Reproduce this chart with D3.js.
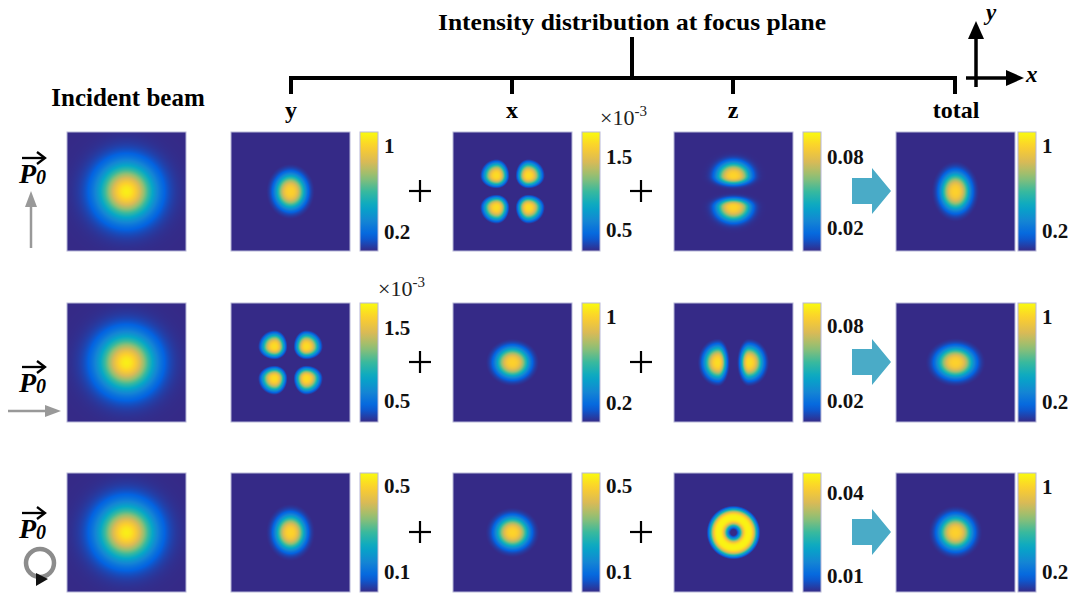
<!DOCTYPE html>
<html><head><meta charset="utf-8">
<script src="https://cdn.jsdelivr.net/npm/d3@7"></script>
<style>
body{margin:0;background:#fff;}
svg{display:block;}
</style>
</head><body>
<svg id="fig" width="1073" height="597"></svg>
<script>
// ---------------- data ----------------
const title = "Intensity distribution at focus plane";
const incidentLabel = "Incident beam";
const columnNames = ["y", "x", "z", "total"];
const polarization = ["linear-y", "linear-x", "circular"];

const incidentPeak = [1, 1, 1];
const incidentWidth = [0.45, 0.45, 0.45];
const incidentDomain = [0, 1.04];

const patternType = [
  ["spot", "quad", "dipoleY", "spot"],
  ["quad", "spot", "dipoleX", "spot"],
  ["spot", "spot", "ring", "spot"]
];
const peakValue = [
  [1, 1.7, 0.09, 1],
  [1.7, 1, 0.09, 1],
  [0.5, 0.5, 0.046, 1]
];
// widths in panel units (panel half-width = 1)
const shapeSX = [
  [0.245, 0.215, 0.27, 0.235],
  [0.215, 0.27, 0.22, 0.295],
  [0.24, 0.265, 0.15, 0.265]
];
const shapeSY = [
  [0.28, 0.215, 0.22, 0.30],
  [0.215, 0.24, 0.26, 0.24],
  [0.28, 0.245, 0.15, 0.265]
];
// width on the side facing the centre (lobes only)
const shapeInner = [
  [0, 0.165, 0.13, 0],
  [0.165, 0, 0.13, 0],
  [0, 0, 0, 0]
];
// lobe offset from centre / ring radius
const shapeOffset = [
  [0, 0.265, 0.26, 0],
  [0.265, 0, 0.26, 0],
  [0, 0, 0.25, 0]
];
const cbMin = [
  [0.02, 0.21, 0, 0.015],
  [0.21, 0.02, 0.003, 0.015],
  [0.007, 0.007, 0.004, 0.015]
];
const cbMax = [
  [1.13, 1.84, 0.101, 1.13],
  [1.84, 1.13, 0.098, 1.13],
  [0.56, 0.56, 0.047, 1.13]
];
const cbTicks = [
  [[0.2, 1], [0.5, 1.5], [0.02, 0.08], [0.2, 1]],
  [[0.5, 1.5], [0.2, 1], [0.02, 0.08], [0.2, 1]],
  [[0.1, 0.5], [0.1, 0.5], [0.01, 0.04], [0.2, 1]]
];
const cbTickLabels = [
  [["0.2", "1"], ["0.5", "1.5"], ["0.02", "0.08"], ["0.2", "1"]],
  [["0.5", "1.5"], ["0.2", "1"], ["0.02", "0.08"], ["0.2", "1"]],
  [["0.1", "0.5"], ["0.1", "0.5"], ["0.01", "0.04"], ["0.2", "1"]]
];
const cbExponent = [
  [null, "-3", null, null],
  ["-3", null, null, null],
  [null, null, null, null]
];
const parulaColors = ["#352a87", "#0363e1", "#1485d4", "#06a7c6", "#38b99e",
  "#92bf73", "#d9ba56", "#fcce2e", "#f9fb0e"];

// ---------------- layout ----------------
const PANEL = 119;
const incidentX = 67;
const colX = [231, 453, 674, 896];
const cbOffset = [129, 129, 129, 122];
const CBW = 18;
const rowY = [132, 303, 473];
const serif = "Liberation Serif";

const svg = d3.select("#fig");
const parula = d3.piecewise(d3.interpolateRgb, parulaColors);
const unit = d3.scaleLinear().domain([-1, 1]).range([0, PANEL]);

function env(u, v, sx, sy, p) {
  return Math.exp(-Math.pow((u / sx) ** 2 + (v / sy) ** 2, p / 2));
}
// distance normalised with a different width toward / away from the centre
function side(w, c, sIn, sOut) {
  const d = w - c;
  return d * Math.sign(c) < 0 ? d / sIn : d / sOut;
}
function lobe(du, dv, p) { return Math.exp(-Math.pow(du * du + dv * dv, p / 2)); }
function field(type, u, v, sx, sy, sIn, off) {
  if (type === "gauss") return env(u, v, sx, sy, 2);
  if (type === "spot") return env(u, v, sx, sy, 2.7);
  if (type === "quad") {
    let s = 0;
    for (const a of [-off, off]) for (const b of [-off, off])
      s += lobe(side(u, a, sIn, sx), side(v, b, sIn, sy), 2.8);
    return s;
  }
  if (type === "dipoleY") {
    let s = 0;
    for (const b of [-off, off]) s += lobe(u / sx, side(v, b, sIn, sy), 2.8);
    return s;
  }
  if (type === "dipoleX") {
    let s = 0;
    for (const a of [-off, off]) s += lobe(side(u, a, sIn, sx), v / sy, 2.8);
    return s;
  }
  if (type === "ring") {
    const r = Math.hypot(u, v);
    return Math.exp(-Math.pow(Math.abs(r - off) / sx, 3));
  }
  return 0;
}

function drawPanel(x0, y0, type, peak, sx, sy, sIn, off, domain) {
  const N = PANEL;
  const canvas = document.createElement("canvas");
  canvas.width = N; canvas.height = N;
  const ctx = canvas.getContext("2d");
  const img = ctx.createImageData(N, N);
  const raw = new Float64Array(N * N);
  let mx = 0;
  for (let j = 0; j < N; j++) for (let i = 0; i < N; i++) {
    const f = field(type, unit.invert(i + 0.5), unit.invert(j + 0.5), sx, sy, sIn, off);
    raw[j * N + i] = f; if (f > mx) mx = f;
  }
  const color = d3.scaleSequential(parula).domain(domain).clamp(true);
  for (let k = 0; k < N * N; k++) {
    const c = d3.rgb(color(raw[k] / mx * peak));
    img.data[4 * k] = c.r; img.data[4 * k + 1] = c.g; img.data[4 * k + 2] = c.b; img.data[4 * k + 3] = 255;
  }
  ctx.putImageData(img, 0, 0);
  const g = svg.append("g").attr("transform", `translate(${x0},${y0})`);
  g.append("image").attr("href", canvas.toDataURL()).attr("width", PANEL).attr("height", PANEL);
  g.append("rect").attr("width", PANEL).attr("height", PANEL)
    .attr("fill", "none").attr("stroke", "#b8b8d8").attr("stroke-width", 1);
}

const defs = svg.append("defs");
const grad = defs.append("linearGradient").attr("id", "parulaGrad")
  .attr("x1", 0).attr("y1", 1).attr("x2", 0).attr("y2", 0);
d3.range(0, 1.0001, 0.05).forEach(t => grad.append("stop").attr("offset", t).attr("stop-color", parula(t)));

function drawColorbar(x0, y0, dom, ticks, labels, expo) {
  const g = svg.append("g").attr("transform", `translate(${x0},0)`);
  g.append("rect").attr("y", y0).attr("width", CBW).attr("height", PANEL)
    .attr("fill", "url(#parulaGrad)").attr("stroke", "#b8b8d8").attr("stroke-width", 1);
  const sc = d3.scaleLinear().domain(dom).range([y0 + PANEL, y0]);
  const ax = g.append("g").attr("transform", `translate(${CBW},0)`)
    .call(d3.axisRight(sc).tickValues(ticks).tickFormat((d, i) => labels[i]).tickSize(0).tickPadding(6));
  ax.select(".domain").remove();
  ax.attr("font-family", serif);
  ax.selectAll("text").attr("font-family", serif).attr("font-size", 21).attr("font-weight", "bold").attr("fill", "#111");
  if (expo) {
    const t = g.append("text").attr("x", 18).attr("y", y0 - 7).attr("font-family", serif)
      .attr("font-size", 22).attr("fill", "#222");
    t.append("tspan").text("×10");
    t.append("tspan").attr("dy", -9).attr("font-size", 15).text(expo);
  }
}

// ---------------- title & bracket ----------------
svg.append("text").attr("x", 632).attr("y", 30).attr("text-anchor", "middle").attr("font-family", serif)
  .attr("font-size", 24).attr("font-weight", "bold").attr("textLength", 388)
  .attr("lengthAdjust", "spacingAndGlyphs").text(title);
const br = svg.append("g").attr("stroke", "#000").attr("stroke-width", 4).attr("fill", "none");
br.append("line").attr("x1", 632).attr("x2", 632).attr("y1", 37).attr("y2", 78);
br.append("line").attr("x1", 289).attr("x2", 957).attr("y1", 78).attr("y2", 78);
[291, 512, 733, 955].forEach(x => br.append("line").attr("x1", x).attr("x2", x).attr("y1", 76).attr("y2", 94));
const colLabelX = [291, 512, 733, 956];
columnNames.forEach((n, i) => svg.append("text").attr("x", colLabelX[i]).attr("y", 118).attr("font-family", serif)
  .attr("text-anchor", "middle").attr("font-size", 24).attr("font-weight", "bold").text(n));
svg.append("text").attr("x", 128).attr("y", 106).attr("text-anchor", "middle").attr("font-family", serif)
  .attr("font-size", 25).attr("font-weight", "bold").text(incidentLabel);

// coordinate axes
const ca = svg.append("g");
ca.append("line").attr("x1", 976).attr("x2", 976).attr("y1", 87).attr("y2", 36).attr("stroke", "#000").attr("stroke-width", 3.5);
ca.append("path").attr("d", "M976,21 L968,39 L984,39 Z").attr("fill", "#000");
ca.append("line").attr("x1", 966).attr("x2", 1008).attr("y1", 78).attr("y2", 78).attr("stroke", "#000").attr("stroke-width", 3.5);
ca.append("path").attr("d", "M1024,78 L1006,70 L1006,86 Z").attr("fill", "#000");
ca.append("text").attr("x", 986).attr("y", 20).attr("font-family", serif).attr("font-size", 23).attr("font-style", "italic").attr("font-weight", "bold").text("y");
ca.append("text").attr("x", 1026).attr("y", 82).attr("font-family", serif).attr("font-size", 23).attr("font-style", "italic").attr("font-weight", "bold").text("x");

// ---------------- rows ----------------
const pBaseline = [183, 392, 538];
polarization.forEach((pol, r) => {
  const y0 = rowY[r];
  drawPanel(incidentX, y0, "gauss", incidentPeak[r], incidentWidth[r], incidentWidth[r], 0, 0, incidentDomain);
  columnNames.forEach((c, k) => {
    drawPanel(colX[k], y0, patternType[r][k], peakValue[r][k], shapeSX[r][k], shapeSY[r][k],
      shapeInner[r][k], shapeOffset[r][k], [cbMin[r][k], cbMax[r][k]]);
    drawColorbar(colX[k] + cbOffset[k], y0, [cbMin[r][k], cbMax[r][k]], cbTicks[r][k], cbTickLabels[r][k], cbExponent[r][k]);
  });
  const cy = y0 + 59;
  [420, 641].forEach(x => {
    svg.append("line").attr("x1", x - 11).attr("x2", x + 11).attr("y1", cy).attr("y2", cy).attr("stroke", "#000").attr("stroke-width", 2.2);
    svg.append("line").attr("x1", x).attr("x2", x).attr("y1", cy - 11).attr("y2", cy + 11).attr("stroke", "#000").attr("stroke-width", 2.2);
  });
  svg.append("path").attr("fill", "#4aabc7")
    .attr("d", `M852,${cy - 13} L872,${cy - 13} L872,${cy - 23} L891,${cy} L872,${cy + 23} L872,${cy + 13} L852,${cy + 13} Z`);

  // P0 label
  const pb = pBaseline[r];
  const t = svg.append("text").attr("x", 19).attr("y", pb).attr("font-family", serif).attr("font-size", 28)
    .attr("font-weight", "bold").attr("font-style", "italic");
  t.append("tspan").text("P");
  t.append("tspan").attr("dy", 1).attr("font-size", 20).text("0");
  const ay = pb - 25;
  svg.append("line").attr("x1", 22).attr("x2", 44).attr("y1", ay).attr("y2", ay).attr("stroke", "#000").attr("stroke-width", 2.3);
  svg.append("path").attr("d", `M37,${ay - 6} L45,${ay} L37,${ay + 6}`).attr("fill", "none").attr("stroke", "#000").attr("stroke-width", 2.3);

  if (pol === "linear-y") {
    svg.append("line").attr("x1", 31).attr("x2", 31).attr("y1", 248).attr("y2", 204).attr("stroke", "#999").attr("stroke-width", 2.5);
    svg.append("path").attr("d", "M31,191 L25,207 L37,207 Z").attr("fill", "#999");
  } else if (pol === "linear-x") {
    svg.append("line").attr("x1", 8).attr("x2", 48).attr("y1", 411).attr("y2", 411).attr("stroke", "#999").attr("stroke-width", 2.5);
    svg.append("path").attr("d", "M61,411 L45,405 L45,417 Z").attr("fill", "#999");
  } else {
    svg.append("circle").attr("cx", 40).attr("cy", 563).attr("r", 14).attr("fill", "none").attr("stroke", "#8c8c8c").attr("stroke-width", 4.5);
    svg.append("path").attr("d", "M36,573 L48,579 L36,586 Z").attr("fill", "#111");
  }
});
</script>
</body></html>
